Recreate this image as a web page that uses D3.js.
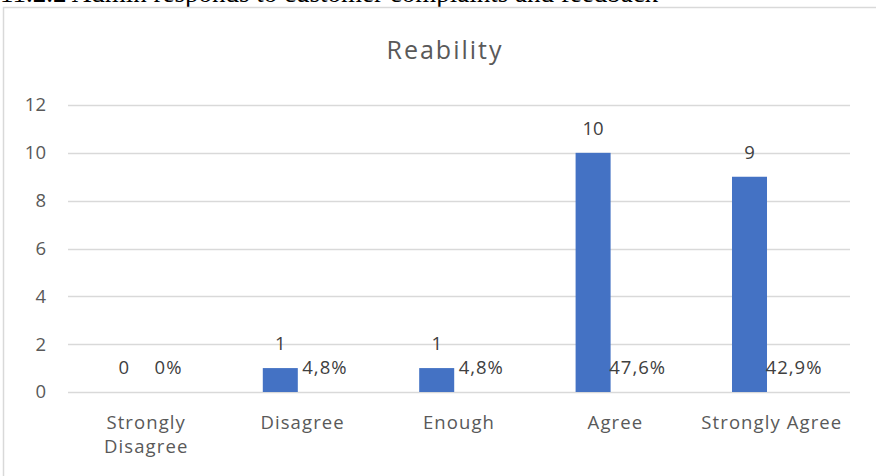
<!DOCTYPE html>
<meta charset="utf-8">
<script src="https://d3js.org/d3.v7.min.js"></script>
<style>
  body { margin: 0; background: #fff; }
  text { font-family: "Open Sans", sans-serif; }
</style>
<div id="chart"></div>
<script>
  // data
  const categories = ["Strongly Disagree", "Disagree", "Enough", "Agree", "Strongly Agree"];
  const counts = [0, 1, 1, 10, 9];
  const percents = ["0%", "4,8%", "4,8%", "47,6%", "42,9%"];
  const yTicks = [0, 2, 4, 6, 8, 10, 12];

  const W = 876, H = 476;
  const svg = d3.select("#chart").append("svg")
      .attr("width", W).attr("height", H);

  // caption of the document, cut at the top
  svg.append("text")
    .attr("x", 0).attr("y", 2)
    .style("font-family", "'Liberation Serif', serif")
    .style("font-size", "27px")
    .attr("fill", "#000")
    .text("11.2.2 Admin responds to customer complaints and feedback");

  // chart frame
  svg.append("rect")
    .attr("x", 3.5).attr("y", 7.5)
    .attr("width", W + 10).attr("height", H + 10)
    .attr("fill", "#fff")
    .attr("stroke", "#d9d9d9").attr("stroke-width", 1.5);

  svg.append("text")
    .attr("x", 445).attr("y", 59)
    .attr("text-anchor", "middle")
    .style("font-size", "25px")
    .style("letter-spacing", "2px")
    .attr("fill", "#595959")
    .text("Reability");

  const x = d3.scaleBand().domain(categories).range([68, 850]);
  const bw = x.bandwidth();
  const x1 = d3.scaleBand().domain(["count", "pct"])
    .range([bw / 2 - 44.6, bw / 2 + 44.6])
    .paddingInner(0.215).paddingOuter(0.1075);
  const y = d3.scaleLinear().domain([0, 12]).range([392, 105]);

  // gridlines
  svg.append("g").selectAll("line").data(yTicks).join("line")
    .attr("x1", 68).attr("x2", 850)
    .attr("y1", d => Math.round(y(d)) + 0.5).attr("y2", d => Math.round(y(d)) + 0.5)
    .attr("stroke", "#d9d9d9").attr("stroke-width", 1.3);

  // y axis labels
  const yAxis = svg.append("g")
    .attr("transform", "translate(46,0)")
    .call(d3.axisLeft(y).tickValues(yTicks).tickSize(0).tickPadding(0));
  yAxis.select(".domain").remove();
  yAxis.selectAll("text")
    .style("font-size", "18.5px").attr("fill", "#595959")
    .attr("text-anchor", "end").attr("x", 0);

  // bars
  svg.append("g").selectAll("rect").data(counts).join("rect")
    .attr("x", (d, i) => x(categories[i]) + x1("count"))
    .attr("width", x1.bandwidth())
    .attr("y", d => y(d))
    .attr("height", d => y(0) - y(d))
    .attr("fill", "#4472c4");

  // value labels
  svg.append("g").selectAll("text").data(counts).join("text")
    .attr("x", (d, i) => x(categories[i]) + x1("count") + x1.bandwidth() / 2)
    .attr("y", d => y(d) - 18)
    .attr("text-anchor", "middle")
    .style("font-size", "18.5px").attr("fill", "#404040")
    .text(d => d);

  svg.append("g").selectAll("text").data(percents).join("text")
    .attr("x", (d, i) => x(categories[i]) + x1("pct") + x1.bandwidth() / 2)
    .attr("y", y(0) - 18)
    .attr("text-anchor", "middle")
    .style("font-size", "18.5px").style("letter-spacing", "1px")
    .attr("fill", "#404040")
    .text(d => d);

  // category labels
  const xAxis = svg.append("g")
    .attr("transform", "translate(0,392)")
    .call(d3.axisBottom(x).tickSize(0).tickPadding(0));
  xAxis.select(".domain").remove();
  xAxis.selectAll(".tick text").remove();
  xAxis.selectAll(".tick").append("text")
    .attr("text-anchor", "middle")
    .style("font-size", "18.5px").style("letter-spacing", "1.1px")
    .attr("fill", "#595959")
    .each(function(d) {
      const lines = d === "Strongly Disagree" ? ["Strongly", "Disagree"] : [d];
      d3.select(this).selectAll("tspan").data(lines).join("tspan")
        .attr("x", 0).attr("y", (l, i) => 37 + i * 24)
        .text(l => l);
    });
</script>
